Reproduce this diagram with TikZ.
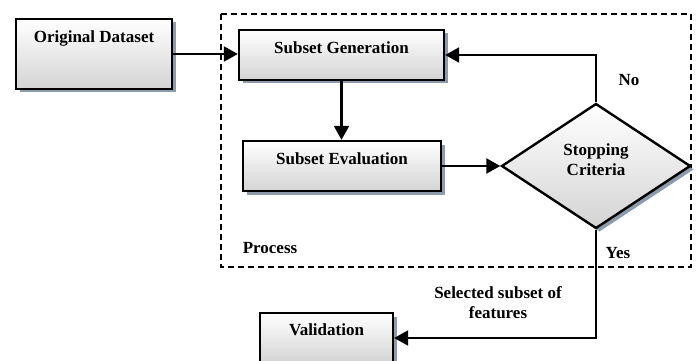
\documentclass[tikz,border=0pt]{standalone}
\usepackage{fontspec}
\setmainfont{Liberation Serif}
\usetikzlibrary{shapes.geometric,arrows.meta,shadows}
\definecolor{shadowc}{HTML}{8C9CAC}
\tikzset{
  boxnode/.style={draw=black, line width=2.4pt, rectangle, inner sep=0pt,
    top color=white, bottom color=black!17,
    drop shadow={shadow xshift=3.5pt, shadow yshift=-3.5pt, fill=shadowc, opacity=1}},
  dianode/.style={draw=black, line width=2.4pt, diamond, inner sep=0pt, aspect=1.512,
    top color=white, bottom color=black!17,
    drop shadow={shadow xshift=3.5pt, shadow yshift=-3.5pt, fill=shadowc, opacity=1}},
  lbl/.style={inner sep=0pt, font=\fontsize{17}{20}\selectfont\bfseries, align=center},
  conn/.style={line width=2.4pt, -{Triangle[length=14pt,width=15pt]}}
}
\begin{document}
\begin{tikzpicture}[x=1pt,y=-1pt]
\clip (0,0) rectangle (697,361);
\useasboundingbox (0,0) rectangle (697,361);
% process frame
\draw[line width=1.6pt, dash pattern=on 6pt off 4pt] (221,14) rectangle (691,267);
% boxes
\node[boxnode, minimum width=156pt, minimum height=70pt] (od) at (94,54) {};
\node[boxnode, minimum width=205pt, minimum height=50pt] (sg) at (341.5,55) {};
\node[boxnode, minimum width=198pt, minimum height=50pt] (se) at (342,166) {};
\node[dianode, minimum width=189pt, minimum height=125pt] (sc) at (596,166) {};
\node[boxnode, minimum width=133pt, minimum height=50pt] (val) at (326.5,338) {};
% texts
\node[lbl] (odt) at (94,38) {Original Dataset};
\node[lbl] (sgt) at (341.5,48) {Subset Generation};
\node[lbl] (set) at (342,159) {Subset Evaluation};
\node[lbl] (sct) at (596,160) {Stopping\\Criteria};
\node[lbl] (valt) at (326.5,330) {Validation};
\node[lbl] (no) at (629,80) {No};
\node[lbl] (yes) at (618,253) {Yes};
\node[lbl] (proc) at (270,248) {Process};
\node[lbl] (sel) at (498,303) {Selected subset of\\features};
% connectors
\draw[conn] (od.east) -- (od.east -| sg.west);
\draw[conn] (sg.south) -- (sg.south |- se.north);
\draw[conn] (se.east) -- (sc.west);
\draw[conn] (sc.north) |- (sg.east);
\draw[conn] (sc.south) |- (val.east);
\end{tikzpicture}
\end{document}
